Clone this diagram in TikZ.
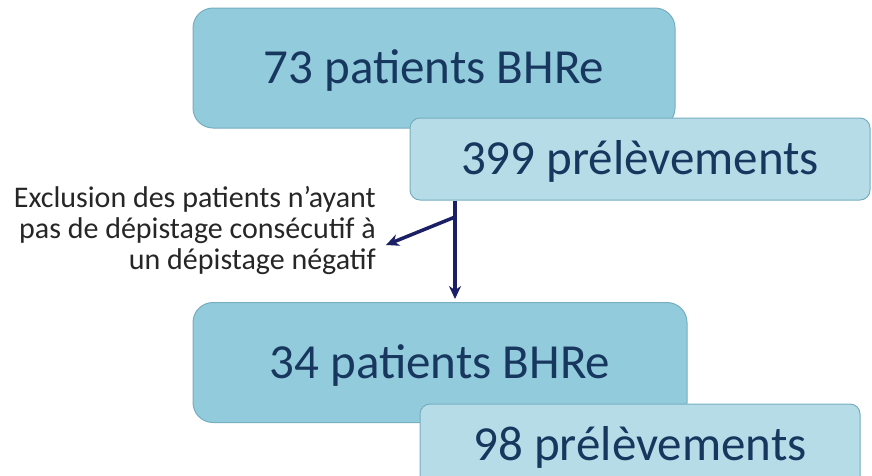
\documentclass[tikz,border=0pt]{standalone}
\usepackage{fontspec}
\setmainfont{Carlito}
\usetikzlibrary{arrows.meta}
\definecolor{patfill}{HTML}{92CBDC}
\definecolor{prefill}{HTML}{B6DCE7}
\definecolor{boxline}{HTML}{76AEC0}
\definecolor{boxtext}{HTML}{17375E}
\definecolor{flowcol}{HTML}{1A1F66}
\definecolor{notetext}{HTML}{262626}
\begin{document}
\begin{tikzpicture}[x=1pt,y=-1pt,
  patbox/.style={draw=boxline, line width=1pt, fill=patfill, rounded corners=20pt,
    minimum height=120pt, inner sep=0pt, text=boxtext,
    font=\fontsize{49}{55}\selectfont, text height=31pt, text depth=0pt},
  prebox/.style={patbox, fill=prefill, rounded corners=10pt, minimum height=82pt},
  note/.style={align=right, text=notetext, inner sep=0pt,
    font=\fontsize{30}{31}\selectfont},
  flow/.style={draw=flowcol, line width=3.5pt, -{Stealth[length=13pt,width=12pt]}}]
\useasboundingbox (0,0) rectangle (872,475);
\node[patbox, minimum width=482pt] (pat1) at (434,68) {73 patients BHRe};
\node[prebox, minimum width=460pt] (pre1) at (640,159) {399 prélèvements};
\node[patbox, minimum width=494pt] (pat2) at (440,362.5) {34 patients BHRe};
\node[prebox, minimum width=440pt] (pre2) at (640,445) {98 prélèvements};
\node[note, anchor=east] (excl) at (376,230)
{Exclusion des patients n’ayant\\pas de dépistage consécutif à\\un dépistage négatif};
\coordinate (split) at (455,217);
\coordinate (tip) at (386,245);
\draw[flow, shorten >=3pt] (split |- pre1.south) -- (split |- pat2.north);
\draw[flow] (split) -- (tip);
\end{tikzpicture}
\end{document}
